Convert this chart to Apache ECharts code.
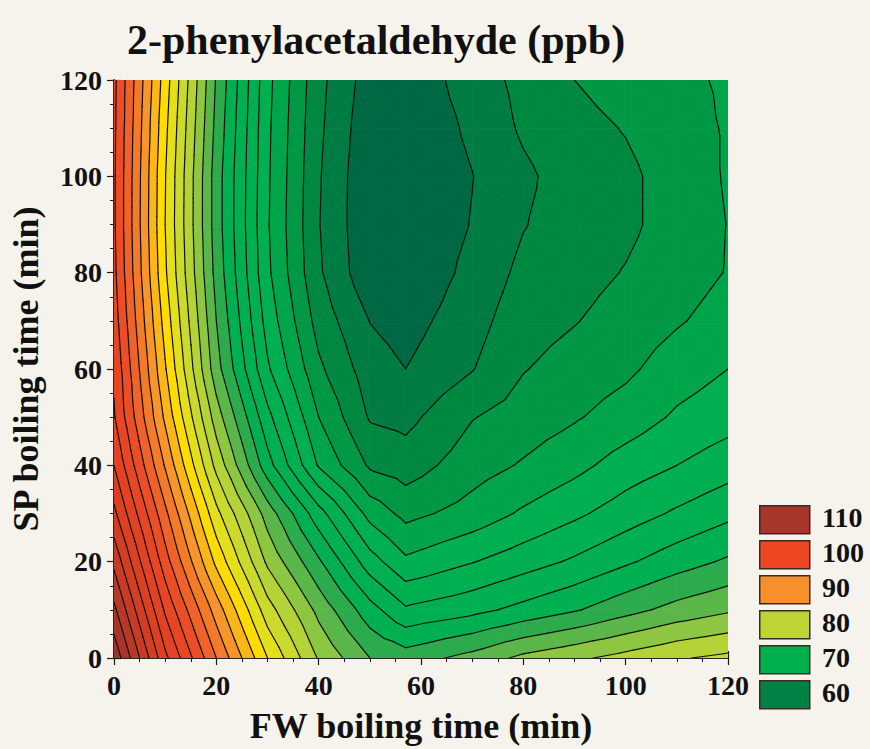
<!DOCTYPE html>
<html><head><meta charset="utf-8">
<script src="https://cdn.jsdelivr.net/npm/echarts@6/dist/echarts.min.js"></script>
<style>html,body{margin:0;padding:0;background:#f6f3ec;} #c{width:870px;height:749px;}</style>
</head><body><div id="c"></div>
<script>
// FW boiling time (x) sample positions and SP boiling time (y) sample positions (min)
const fwTimes = [0, 10, 20, 30, 40, 50, 57, 70, 80, 90, 100, 110, 120];
const spTimes = [0, 10, 20, 30, 40, 50, 60, 70, 80, 90, 100, 110, 120];
// 2-phenylacetaldehyde (ppb), one row per SP time
const z_sp0   = [113.5, 102.5, 94.0, 86.0, 79.8, 76.0, 75.0, 76.7, 78.5, 79.6, 80.7, 81.8, 82.5];
const z_sp10  = [110.5, 99.7, 91.1, 82.9, 77.4, 72.8, 70.3, 71.4, 72.6, 73.8, 75.3, 76.7, 77.7];
const z_sp20  = [107.5, 96.9, 87.5, 79.6, 74.3, 68.9, 66.4, 67.9, 69.1, 70.3, 71.7, 73.1, 74.3];
const z_sp30  = [104.5, 94.5, 84.6, 77.1, 70.8, 65.3, 63.4, 64.8, 66.3, 67.6, 69.0, 70.3, 71.5];
const z_sp40  = [102.0, 91.8, 81.4, 72.8, 65.8, 61.7, 61.0, 63.1, 64.2, 65.4, 66.9, 68.0, 69.1];
const z_sp50  = [100.2, 89.6, 79.0, 70.6, 64.0, 59.8, 59.4, 61.9, 62.9, 63.8, 64.9, 66.3, 67.2];
const z_sp60  = [99.7, 88.2, 76.8, 68.3, 62.4, 58.9, 58.0, 59.9, 61.9, 62.8, 63.6, 65.0, 66.0];
const z_sp70  = [99.0, 87.2, 76.0, 67.2, 61.2, 57.95, 57.2, 59.2, 61.2, 61.9, 62.8, 63.8, 64.8];
const z_sp80  = [98.5, 86.3, 75.3, 66.4, 60.3, 56.5, 56.3, 58.6, 60.5, 61.3, 62.1, 63.1, 64.1];
const z_sp90  = [98.3, 86.0, 75.0, 66.2, 60.1, 56.3, 56.1, 58.1, 59.9, 61.0, 61.6, 62.8, 64.05];
const z_sp100 = [98.3, 86.1, 75.0, 66.3, 60.2, 56.3, 56.1, 57.95, 59.6, 61.0, 61.6, 62.8, 64.2];
const z_sp110 = [98.4, 86.5, 75.4, 66.4, 60.4, 56.6, 56.3, 58.4, 60.3, 61.4, 62.1, 63.1, 64.2];
const z_sp120 = [98.5, 87.0, 75.8, 66.6, 60.6, 57.0, 56.6, 58.95, 60.6, 62.0, 62.8, 63.5, 64.3];
const zRows = [z_sp0, z_sp10, z_sp20, z_sp30, z_sp40, z_sp50, z_sp60, z_sp70, z_sp80, z_sp90, z_sp100, z_sp110, z_sp120];

const tickValues = [0, 20, 40, 60, 80, 100, 120];
const legendValues = [110, 100, 90, 80, 70, 60];
const legendColors = ['#a8352a', '#ee4623', '#f7902a', '#bcd535', '#00b04f', '#008244'];
const contourStep = 2, contourMin = 54, contourMax = 116;

// colour ramp (value -> colour)
const rampStops = [
  [55, '#005e3e'], [57, '#006843'], [59, '#007c42'], [61, '#008841'], [63, '#009745'],
  [65, '#00a54a'], [67, '#00af4f'], [73, '#00b050'], [75, '#2bab4c'], [77, '#5bb64a'],
  [79, '#8dc640'], [81, '#b3d336'], [83, '#c9da2c'], [85, '#e3df1a'], [87, '#ffdc00'],
  [89, '#fbb617'], [91, '#f7942a'], [93, '#f37a28'], [95, '#ef622a'], [97, '#eb4d26'],
  [99, '#e84524'], [103, '#dc3f22'], [107, '#c73a26'], [111, '#aa3329'], [115, '#982e26']
];
function hex2rgb(h){return [parseInt(h.slice(1,3),16),parseInt(h.slice(3,5),16),parseInt(h.slice(5,7),16)];}
function ramp(v){
  if (v <= rampStops[0][0]) return rampStops[0][1];
  for (let k = 1; k < rampStops.length; k++) {
    if (v <= rampStops[k][0]) {
      const a = rampStops[k-1], b = rampStops[k];
      const t = (v - a[0]) / (b[0] - a[0]);
      const ca = hex2rgb(a[1]), cb = hex2rgb(b[1]);
      return 'rgb(' + ca.map((c,i)=>Math.round(c + (cb[i]-c)*t)).join(',') + ')';
    }
  }
  return rampStops[rampStops.length-1][1];
}

// cells built from the arrays
const cells = [];
for (let j = 0; j < spTimes.length - 1; j++) {
  for (let i = 0; i < fwTimes.length - 1; i++) {
    cells.push([fwTimes[i], spTimes[j], fwTimes[i+1], spTimes[j+1],
      zRows[j][i], zRows[j][i+1], zRows[j+1][i+1], zRows[j+1][i]]);
  }
}

function clipHalf(poly, L, keepAbove) {
  const out = [];
  const inside = p => keepAbove ? p[2] >= L : p[2] < L;
  for (let k = 0; k < poly.length; k++) {
    const a = poly[k], b = poly[(k+1) % poly.length];
    const ia = inside(a), ib = inside(b);
    if (ia) out.push(a);
    if (ia !== ib) {
      const t = (L - a[2]) / (b[2] - a[2]);
      out.push([a[0] + (b[0]-a[0])*t, a[1] + (b[1]-a[1])*t, L]);
    }
  }
  return out;
}

function renderItem(params, api) {
  const x0 = api.value(0), y0 = api.value(1), x1 = api.value(2), y1 = api.value(3);
  const v = [api.value(4), api.value(5), api.value(6), api.value(7)];
  const c = [api.coord([x0, y0]), api.coord([x1, y0]), api.coord([x1, y1]), api.coord([x0, y1])];
  const P = c.map((p, k) => [p[0], p[1], v[k]]);
  const C = [(c[0][0]+c[2][0])/2, (c[0][1]+c[2][1])/2, (v[0]+v[1]+v[2]+v[3])/4];
  const tris = [[P[0],P[1],C],[P[1],P[2],C],[P[2],P[3],C],[P[3],P[0],C]];
  const children = [];
  for (let lo = contourMin; lo < contourMax; lo += contourStep) {
    const col = ramp(lo + contourStep/2);
    for (const tri of tris) {
      let poly = lo === contourMin ? tri : clipHalf(tri, lo, true);
      if (poly.length < 3) continue;
      if (lo + contourStep < contourMax) poly = clipHalf(poly, lo + contourStep, false);
      if (poly.length < 3) continue;
      children.push({type: 'polygon', shape: {points: poly.map(p => [p[0], p[1]])},
        style: {fill: col, stroke: col, lineWidth: 0.8}, silent: true});
    }
  }
  for (let L = contourMin + contourStep; L < contourMax; L += contourStep) {
    for (const tri of tris) {
      const pts = [];
      for (let k = 0; k < 3; k++) {
        const a = tri[k], b = tri[(k+1)%3];
        if ((a[2] >= L) !== (b[2] >= L)) {
          const t = (L - a[2]) / (b[2] - a[2]);
          pts.push([a[0] + (b[0]-a[0])*t, a[1] + (b[1]-a[1])*t]);
        }
      }
      if (pts.length === 2) {
        children.push({type: 'line', shape: {x1: pts[0][0], y1: pts[0][1], x2: pts[1][0], y2: pts[1][1]},
          style: {stroke: '#111', lineWidth: 1.2, lineCap: 'round'}, silent: true, z2: 10});
      }
    }
  }
  return {type: 'group', children};
}

const serif = '"Liberation Serif", "DejaVu Serif", serif';
const chart = echarts.init(document.getElementById('c'), null, {renderer: 'svg'});
const axisCommon = {
  type: 'value', min: 0, max: 120, interval: 20,
  axisLine: {show: true, lineStyle: {color: '#1a1a1a', width: 1.5}},
  axisTick: {show: true, inside: true, length: 7, lineStyle: {color: '#1a1a1a', width: 1.2}},
  minorTick: {show: true, splitNumber: 4, length: 4, lineStyle: {color: '#1a1a1a', width: 1}},
  splitLine: {show: false}
};
const legendGraphics = [];
legendValues.forEach((val, k) => {
  legendGraphics.push({type: 'rect', left: 759, top: 505 + k * 35,
    shape: {width: 50, height: 28}, style: {fill: legendColors[k], stroke: '#3b2a22', lineWidth: 1.5}});
  legendGraphics.push({type: 'text', left: 822, top: 503 + k * 35,
    style: {text: String(val), font: 'bold 28px ' + serif, fill: '#111'}});
});

chart.setOption({
  backgroundColor: '#f6f3ec',
  animation: false,
  title: {text: '2-phenylacetaldehyde (ppb)', left: 122, top: 14,
    textStyle: {fontFamily: serif, fontWeight: 'bold', fontSize: 42, color: '#111'}},
  grid: {left: 110, top: 80, width: 618, height: 578},
  xAxis: [
    Object.assign({}, axisCommon, {position: 'bottom', name: 'FW boiling time (min)', nameLocation: 'middle', nameGap: 50,
      nameTextStyle: {fontFamily: serif, fontWeight: 'bold', fontSize: 36, color: '#111'},
      axisLabel: {fontFamily: serif, fontWeight: 'bold', fontSize: 28, color: '#111', margin: 13,
        customValues: tickValues}}),
    Object.assign({}, axisCommon, {position: 'top', axisLabel: {show: false}})
  ],
  yAxis: [
    Object.assign({}, axisCommon, {position: 'left', name: 'SP boiling time (min)', nameLocation: 'middle', nameGap: 70,
      nameTextStyle: {fontFamily: serif, fontWeight: 'bold', fontSize: 36, color: '#111'},
      axisLabel: {fontFamily: serif, fontWeight: 'bold', fontSize: 28, color: '#111', margin: 12}}),
    Object.assign({}, axisCommon, {position: 'right', axisLabel: {show: false}})
  ],
  graphic: legendGraphics,
  series: [{
    type: 'custom', renderItem: renderItem, data: cells, clip: true,
    encode: {x: [0, 2], y: [1, 3]}, silent: true, z: 1
  }]
});
</script></body></html>
